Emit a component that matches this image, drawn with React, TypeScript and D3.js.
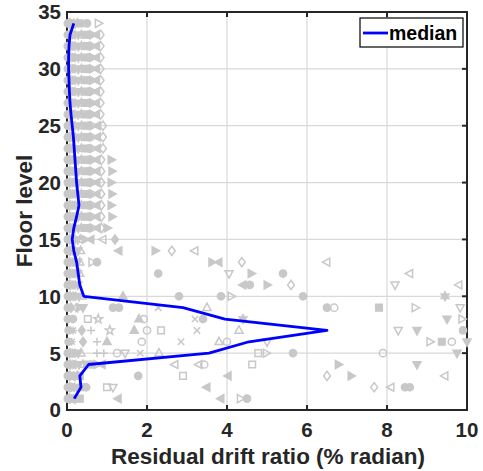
import React from 'react';
import * as d3 from 'd3';

const floors = [1,2,3,4,5,6,7,8,9,10,11,12,13,14,15,16,17,18,19,20,21,22,23,24,25,26,27,28,29,30,31,32,33,34];
const medianDrift = [0.18,0.35,0.32,0.54,3.55,4.55,6.5,3.95,2.9,0.42,0.32,0.28,0.24,0.17,0.13,0.17,0.24,0.3,0.27,0.24,0.22,0.2,0.18,0.16,0.13,0.1,0.075,0.06,0.05,0.04,0.04,0.05,0.075,0.17];
const xTicks = [0,2,4,6,8,10];
const yTicks = [0,5,10,15,20,25,30,35];
const xGrid = [2,4,6,8];
const yGrid = [5,10,15,20,25,30];

// dense cluster near the vertical axis, one list per floor (floor 1 .. 34)
const nearAxisDrift: number[][] = [
  [0.02,0.06,0.1,0.15,0.2,0.26,0.32],
  [0.02,0.07,0.12,0.18,0.25,0.32,0.4,0.48],
  [0.02,0.06,0.1,0.15,0.2,0.26,0.32],
  [0.02,0.08,0.15,0.22,0.3,0.4,0.5,0.62,0.75,0.88],
  [0.02,0.07,0.13,0.2,0.28,0.35],
  [0.04],
  [0.04],
  [0.02],
  [0.02,0.1,0.2,0.3,0.4],
  [0.02,0.08,0.15,0.22,0.3,0.38],
  [0.02,0.07,0.13,0.2,0.27],
  [0.02,0.07,0.13,0.2,0.27,0.32],
  [0.02,0.07,0.13,0.2,0.27,0.32],
  [0.02,0.07,0.13,0.2,0.27,0.34],
  [0.02,0.07,0.13,0.2,0.27,0.33],
  [0.02,0.07,0.13,0.2,0.28,0.36,0.45,0.55,0.65,0.76,0.86],
  [0.02,0.07,0.13,0.2,0.28,0.36,0.45,0.55,0.65,0.75,0.86],
  [0.02,0.07,0.13,0.2,0.28,0.36,0.45,0.55,0.65,0.75,0.86],
  [0.02,0.07,0.13,0.2,0.28,0.36,0.45,0.55,0.65,0.75,0.86],
  [0.02,0.07,0.13,0.2,0.28,0.36,0.45,0.55,0.65,0.75,0.86],
  [0.02,0.07,0.13,0.2,0.28,0.36,0.45,0.55,0.65,0.75,0.86],
  [0.02,0.07,0.13,0.2,0.28,0.36,0.45,0.55,0.65,0.75,0.86],
  [0.02,0.07,0.13,0.2,0.28,0.36,0.45,0.55,0.65,0.76,0.9],
  [0.02,0.07,0.13,0.2,0.28,0.36,0.45,0.55,0.65,0.76,0.9],
  [0.02,0.07,0.13,0.2,0.28,0.36,0.45,0.55,0.65,0.76,0.9],
  [0.02,0.07,0.13,0.2,0.28,0.36,0.45,0.55,0.64,0.74,0.84],
  [0.02,0.07,0.13,0.2,0.28,0.36,0.45,0.55,0.64,0.74,0.84],
  [0.02,0.07,0.13,0.2,0.28,0.36,0.45,0.55,0.64,0.74,0.84],
  [0.02,0.07,0.13,0.2,0.28,0.36,0.45,0.55,0.64,0.74,0.84],
  [0.02,0.07,0.13,0.2,0.28,0.36,0.45,0.55,0.64,0.74,0.84],
  [0.02,0.07,0.13,0.2,0.28,0.36,0.45,0.55,0.64,0.74,0.84],
  [0.02,0.07,0.13,0.2,0.28,0.36,0.45,0.55,0.64,0.74,0.84],
  [0.02,0.07,0.13,0.2,0.28,0.36,0.45,0.55,0.64,0.74,0.84],
  [0.02,0.06,0.1,0.15,0.2,0.26,0.32,0.5,0.78],
];
const clusterShapes = ['o','d','<','>','v','^','s','o','>','<','d','h','o','>'];
const clusterFilled = [1,1,0,1,1,0,1,1,0,1,0,1,1,0];

// individual scattered points: [floor, drift, marker, filled]
const outliers: [number, number, string, number][] = [
  [1,1.28,'<',1],[1,3.85,'<',1],[1,4.33,'>',0],[1,4.5,'o',1],
  [2,1.0,'s',0],[2,1.15,'v',0],[2,3.5,'<',1],[2,7.68,'d',0],[2,8.1,'<',0],[2,8.45,'o',1],[2,8.57,'o',1],
  [3,1.78,'o',1],[3,2.9,'s',0],[3,4.03,'<',1],[3,6.5,'d',0],[3,7.1,'>',1],[3,9.45,'<',0],
  [4,2.7,'<',0],[4,3.3,'<',0],[4,3.43,'o',0],[4,4.63,'s',0],[4,6.78,'>',1],[4,8.75,'v',1],
  [5,0.75,'+',0],[5,0.92,'+',0],[5,1.25,'o',0],[5,1.45,'v',0],[5,1.83,'x',0],[5,2.3,'^',0],[5,4.78,'s',0],[5,4.98,'>',0],[5,5.65,'o',1],[5,7.9,'o',0],[5,9.75,'v',1],
  [6,0.12,'*',0],[6,0.4,'d',1],[6,0.75,'+',0],[6,1.0,'^',1],[6,1.87,'o',0],[6,2.85,'x',0],[6,3.8,'^',0],[6,4.0,'o',0],[6,5.0,'v',0],[6,9.07,'>',0],[6,9.37,'s',1],[6,9.62,'o',0],[6,10.0,'v',1],
  [7,0.15,'*',0],[7,0.37,'d',1],[7,0.6,'+',0],[7,1.07,'p',0],[7,1.68,'^',1],[7,2.0,'o',0],[7,2.35,'s',0],[7,3.25,'x',0],[7,4.3,'^',0],[7,8.28,'v',0],[7,8.75,'v',1],[7,9.9,'o',1],
  [8,0.15,'o',1],[8,0.52,'s',0],[8,0.78,'p',0],[8,1.8,'^',1],[8,1.92,'o',0],[8,3.2,'x',0],[8,3.4,'o',1],[8,4.4,'h',1],[8,9.5,'v',1],[8,9.87,'>',0],
  [9,1.15,'o',1],[9,1.3,'o',1],[9,2.28,'x',0],[9,3.5,'^',0],[9,6.5,'o',1],[9,6.68,'o',0],[9,7.8,'s',1],[9,8.7,'>',0],[9,9.83,'v',0],
  [10,1.4,'^',1],[10,2.8,'o',1],[10,3.85,'o',1],[10,4.1,'>',0],[10,5.9,'o',1],[10,9.45,'h',1],
  [11,4.4,'<',1],[11,4.57,'o',1],[11,5.0,'>',1],[11,5.6,'d',0],[11,8.2,'v',0],[11,9.8,'<',0],
  [12,2.28,'o',1],[12,4.05,'v',0],[12,4.6,'>',1],[12,5.4,'o',1],[12,8.57,'<',0],
  [13,0.62,'>',0],[13,0.75,'o',1],[13,3.62,'>',1],[13,3.8,'<',1],[13,4.37,'d',0],[13,6.5,'<',0],
  [14,1.3,'<',1],[14,2.2,'>',1],[14,2.62,'d',0],[14,3.2,'<',0],
  [15,0.45,'>',1],[15,0.6,'<',1],[15,0.9,'<',0],[15,1.2,'d',1],
  [16,1.0,'>',1],[17,1.12,'>',1],[18,1.1,'>',1],[19,1.12,'>',1],[20,1.1,'>',1],[21,1.12,'>',1],[22,1.1,'>',1],
];

const W = 483, H = 471;
const x = d3.scaleLinear().domain([0, 10]).range([67, 467]);
const y = d3.scaleLinear().domain([0, 35]).range([410, 12]);
const GRAY = '#c8c8c8';
const AX = '#262626';
const FONT = '"Liberation Sans", Arial, Helvetica, sans-serif';

function starPath(n: number, ro: number, ri: number): string {
  const pts: string[] = [];
  for (let i = 0; i < n * 2; i++) {
    const r = i % 2 === 0 ? ro : ri;
    const a = -Math.PI / 2 + (i * Math.PI) / n;
    pts.push(`${(r * Math.cos(a)).toFixed(2)},${(r * Math.sin(a)).toFixed(2)}`);
  }
  return 'M' + pts.join('L') + 'Z';
}

function markerPath(shape: string): string {
  const r = 3.6;
  switch (shape) {
    case 'o': return `M${r},0A${r},${r} 0 1,1 ${-r},0A${r},${r} 0 1,1 ${r},0Z`;
    case 's': return 'M-3.3,-3.3H3.3V3.3H-3.3Z';
    case 'd': return 'M0,-4.6L3.4,0L0,4.6L-3.4,0Z';
    case '^': return 'M0,-4.5L4,2.8L-4,2.8Z';
    case 'v': return 'M0,4.5L4,-2.8L-4,-2.8Z';
    case '>': return 'M4.5,0L-2.8,4L-2.8,-4Z';
    case '<': return 'M-4.5,0L2.8,4L2.8,-4Z';
    case 'p': return starPath(5, 4.6, 1.9);
    case 'h': return starPath(6, 4.4, 2.4);
    case '+': return 'M-4,0H4M0,-4V4';
    case 'x': return 'M-3.2,-3.2L3.2,3.2M-3.2,3.2L3.2,-3.2';
    case '*': return 'M-4,0H4M0,-4V4M-3,-3L3,3M-3,3L3,-3';
    default: return '';
  }
}

type Pt = { f: number; v: number; s: string; filled: boolean };

export default function App() {
  const points: Pt[] = [];
  nearAxisDrift.forEach((vals, i) => {
    vals.forEach((v, j) => {
      points.push({ f: floors[i], v, s: clusterShapes[j % clusterShapes.length], filled: clusterFilled[j % clusterFilled.length] === 1 });
    });
  });
  outliers.forEach(([f, v, s, fl]) => points.push({ f, v, s, filled: fl === 1 }));

  const line = d3.line<number>().x((d) => x(d)).y((_, i) => y(floors[i]));
  const medianD = line(medianDrift) || '';

  return (
    <svg width={W} height={H} style={{ position: 'absolute', left: 0, top: 0, background: '#fff' }} fontFamily={FONT}>
      <rect x={0} y={0} width={W} height={H} fill="#fff" />
      {/* grid */}
      {xGrid.map((t) => (
        <line key={'gx' + t} x1={x(t)} x2={x(t)} y1={y(0)} y2={y(35)} stroke="#d9d9d9" strokeWidth={1.2} />
      ))}
      {yGrid.map((t) => (
        <line key={'gy' + t} x1={x(0)} x2={x(10)} y1={y(t)} y2={y(t)} stroke="#d9d9d9" strokeWidth={1.2} />
      ))}
      {/* box */}
      <rect x={x(0)} y={y(35)} width={x(10) - x(0)} height={y(0) - y(35)} fill="none" stroke={AX} strokeWidth={2} />
      {xTicks.map((t) => (
        <g key={'tx' + t}>
          <line x1={x(t)} x2={x(t)} y1={y(0)} y2={y(0) - 5} stroke={AX} strokeWidth={2} />
          <line x1={x(t)} x2={x(t)} y1={y(35)} y2={y(35) + 5} stroke={AX} strokeWidth={2} />
          <text x={x(t)} y={y(0) + 27} textAnchor="middle" fontSize={20.5} fontWeight="bold" fill={AX}>{t}</text>
        </g>
      ))}
      {yTicks.map((t) => (
        <g key={'ty' + t}>
          <line x1={x(0)} x2={x(0) + 5} y1={y(t)} y2={y(t)} stroke={AX} strokeWidth={2} />
          <line x1={x(10)} x2={x(10) - 5} y1={y(t)} y2={y(t)} stroke={AX} strokeWidth={2} />
          <text x={61} y={y(t)} dy="0.36em" textAnchor="end" fontSize={20.5} fontWeight="bold" fill={AX}>{t}</text>
        </g>
      ))}
      {/* scatter */}
      {points.map((p, i) => (
        <path
          key={'p' + i}
          d={markerPath(p.s)}
          transform={`translate(${x(p.v)},${y(p.f)})`}
          fill={p.filled && p.s !== '+' && p.s !== 'x' && p.s !== '*' ? GRAY : 'none'}
          stroke={GRAY}
          strokeWidth={1.5}
        />
      ))}
      {/* median */}
      <path d={medianD} fill="none" stroke="#0000ff" strokeWidth={2.8} strokeLinejoin="round" />
      {/* legend */}
      <rect x={360} y={18} width={103} height={29} fill="#fff" stroke="#000" strokeWidth={1.2} />
      <line x1={363} x2={388} y1={33} y2={33} stroke="#0000ff" strokeWidth={2.8} />
      <text x={389} y={40} fontSize={19.5} fontWeight="bold" fill="#000">median</text>
      {/* axis labels */}
      <text x={268} y={464} textAnchor="middle" fontSize={22.5} fontWeight="bold" fill={AX}>Residual drift ratio (% radian)</text>
      <text transform={`translate(32,211) rotate(-90)`} textAnchor="middle" fontSize={22.5} fontWeight="bold" fill={AX}>Floor level</text>
    </svg>
  );
}
